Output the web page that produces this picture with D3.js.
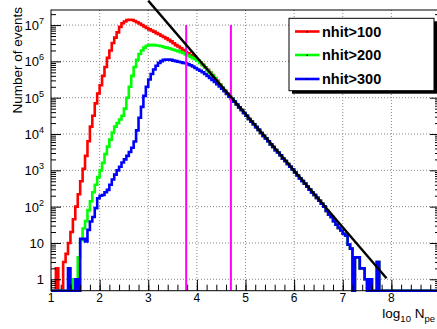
<!DOCTYPE html>
<html>
<head>
<meta charset="utf-8">
<script src="https://cdn.jsdelivr.net/npm/d3@7"></script>
<style>
  body { margin: 0; background: #fff; }
  svg { display: block; }
  text { font-family: "Liberation Sans", Arial, Helvetica, sans-serif; fill: #000; }
</style>
</head>
<body>
<svg id="chart" width="437" height="329"></svg>
<script>
// histogram binning in log10(Npe)
const binStart = 1.0;
const binWidth = 0.05;

// counts per bin from 1.00 up to 4.65
const nhit100 = [0, 0, 2, 0, 0, 3, 5, 10, 20, 45,
  100, 220, 500, 1100, 2500, 6300, 16000, 32000, 70000, 130000,
  220000, 400000, 700000, 1250000, 2000000, 3200000, 4500000, 6300000, 8900000, 11200000,
  12600000, 13800000, 14000000, 13800000, 13000000, 12000000, 11000000, 10000000, 9100000, 8300000,
  7600000, 7100000, 6600000, 6000000, 5600000, 5100000, 4700000, 4300000, 3900000, 3550000,
  3160000, 2800000, 2570000, 2290000, 2040000, 1820000, 1660000, 1480000, 1350000, 1200000,
  1070000, 930000, 810000, 690000, 590000, 500000, 420000, 350000, 290000, 234000,
  190000, 158000, 129000, 107000];

const nhit200 = [0, 0, 0, 0, 0, 0, 0, 0, 0, 1,
  1, 4, 12, 25, 40, 80, 140, 250, 400, 650,
  1000, 1600, 2800, 4500, 7000, 11000, 16000, 20000, 25000, 32000,
  50000, 100000, 200000, 400000, 700000, 1100000, 1600000, 2000000, 2400000, 2700000,
  2800000, 2850000, 2800000, 2750000, 2700000, 2600000, 2500000, 2400000, 2300000, 2200000,
  2100000, 2000000, 1900000, 1800000, 1700000, 1550000, 1450000, 1320000, 1230000, 1150000,
  1050000, 910000, 790000, 680000, 575000, 490000, 410000, 340000, 280000, 230000,
  190000, 155000, 129000, 107000];

const nhit300 = [0, 0, 0, 0, 0, 0, 0, 2, 0, 0,
  1, 0, 13, 13, 11, 23, 39, 52, 91, 170,
  200, 210, 250, 290, 400, 560, 760, 1000, 1250, 1650,
  2000, 2500, 3200, 4200, 6200, 12600, 28000, 56000, 112000, 200000,
  316000, 450000, 600000, 760000, 910000, 1020000, 1100000, 1120000, 1120000, 1100000,
  1050000, 1020000, 980000, 950000, 910000, 890000, 830000, 780000, 720000, 660000,
  600000, 550000, 500000, 450000, 400000, 350000, 310000, 270000, 235000, 205000,
  178000, 150000, 126000, 107000];

// from 4.70 up to 9.00 the three selections coincide
const commonTail = [93000, 78000, 65000, 54000, 46000, 38000, 32000, 26000, 22000, 18500,
  15500, 13000, 10700, 8900, 7600, 6300, 5200, 4400, 3600, 3100,
  2600, 2100, 1800, 1500, 1250, 1050, 870, 720, 600, 510,
  430, 355, 295, 245, 210, 175, 145, 120, 100, 76,
  60, 52, 40, 32, 26, 22, 18, 16, 9, 7,
  0, 4, 4, 2, 2, 1, 0, 1, 0, 0,
  3, 0, 0, 0, 0, 0, 0, 0, 0, 0,
  0, 0, 0, 0, 0, 0, 0, 0, 0, 0,
  0, 0, 0, 0, 0, 0];

const seriesNames = ["nhit>100", "nhit>200", "nhit>300"];
const seriesColors = ["#ff0000", "#00ff00", "#0000ff"];

const xTicks = [1, 2, 3, 4, 5, 6, 7, 8, 9];
const yTicks = [1, 10, 1e2, 1e3, 1e4, 1e5, 1e6, 1e7];

// vertical cut markers and the power-law line
const cutX = [3.78, 4.70];
const cutTop = 1e7;
const fitX = [3.0, 7.9];
const fitY = [4.7e7, 1.07];

const svg = d3.select("#chart");

const x = d3.scaleLinear().domain([1, 9]).range([51, 440]);
const y = d3.scaleLog().domain([0.485, 2.6e7]).range([290.7, 10]);
const [xLeft, xRight] = x.range();
const [yBottom, yTop] = y.range();

// dotted grid
const grid = svg.append("g").attr("stroke", "#888").attr("stroke-dasharray", "1,2");
grid.selectAll(".gx").data(xTicks.slice(1, -1)).join("line")
  .attr("x1", d => x(d)).attr("x2", d => x(d))
  .attr("y1", yTop).attr("y2", yBottom);
grid.selectAll(".gy").data(yTicks).join("line")
  .attr("x1", xLeft).attr("x2", xRight)
  .attr("y1", d => y(d)).attr("y2", d => y(d));

// histograms
function histPoints(values) {
  const pts = [[x(binStart), yBottom]];
  values.forEach((v, i) => {
    const lo = binStart + i * binWidth, hi = lo + binWidth;
    const yy = v > 0 ? y(v) : yBottom;
    pts.push([x(lo), yy], [x(hi), yy]);
  });
  pts.push([x(binStart + values.length * binWidth), yBottom]);
  return pts;
}
const line = d3.line();
[nhit100, nhit200, nhit300].forEach((s, k) => {
  svg.append("path")
    .attr("d", line(histPoints(s.concat(commonTail))))
    .attr("fill", "none")
    .attr("stroke", seriesColors[k])
    .attr("stroke-width", 2.6)
    .attr("stroke-linejoin", "miter");
});

// magenta cuts
svg.append("g").selectAll("line").data(cutX).join("line")
  .attr("x1", d => x(d)).attr("x2", d => x(d))
  .attr("y1", yBottom).attr("y2", y(cutTop))
  .attr("stroke", "#ff00ff").attr("stroke-width", 2);

// fitted power law
svg.append("line")
  .attr("x1", x(fitX[0])).attr("y1", y(fitY[0]))
  .attr("x2", x(fitX[1])).attr("y2", y(fitY[1]))
  .attr("stroke", "#000").attr("stroke-width", 2.4);

// axes (ticks pointing inward)
const xMinor = d3.range(1, 9.001, 0.2);
const yMinor = [];
for (let e = -1; e <= 7; e++) for (let m = 2; m <= 9; m++) {
  const v = m * Math.pow(10, e);
  if (v > 0.485 && v < 2.6e7) yMinor.push(v);
}
function clean(g) { g.select(".domain").remove(); g.selectAll("text").remove(); }

svg.append("g").attr("transform", `translate(0,${yBottom})`)
  .call(d3.axisBottom(x).tickValues(xTicks).tickSize(-11)).call(clean);
svg.append("g").attr("transform", `translate(0,${yBottom})`)
  .call(d3.axisBottom(x).tickValues(xMinor).tickSize(-6)).call(clean);
svg.append("g").attr("transform", `translate(${xLeft},0)`)
  .call(d3.axisLeft(y).tickValues(yTicks).tickSize(-10)).call(clean);
svg.append("g").attr("transform", `translate(${xLeft},0)`)
  .call(d3.axisLeft(y).tickValues(yMinor).tickSize(-5)).call(clean);
svg.append("g").attr("transform", `translate(${xRight},0)`)
  .call(d3.axisRight(y).tickValues(yTicks).tickSize(-10)).call(clean);
svg.append("g").attr("transform", `translate(${xRight},0)`)
  .call(d3.axisRight(y).tickValues(yMinor).tickSize(-5)).call(clean);

svg.append("rect")
  .attr("x", xLeft).attr("y", yTop)
  .attr("width", xRight - xLeft).attr("height", yBottom - yTop)
  .attr("fill", "none").attr("stroke", "#000").attr("stroke-width", 1);

// tick labels
svg.append("g").selectAll("text").data(xTicks).join("text")
  .attr("x", d => x(d)).attr("y", 302)
  .attr("text-anchor", "middle").attr("font-size", 12)
  .text(d => d);

const yl = svg.append("g").selectAll("text").data(yTicks).join("text")
  .attr("x", 44).attr("y", d => y(d) + 5)
  .attr("text-anchor", "end").attr("font-size", 13);
yl.each(function (d) {
  const t = d3.select(this);
  const e = Math.round(Math.log10(d));
  if (e < 2) { t.text(d); return; }
  t.append("tspan").text("10");
  t.append("tspan").attr("dy", -6).attr("font-size", 9).text(e);
});

// axis titles
svg.append("text")
  .attr("transform", "translate(22,7) rotate(-90)")
  .attr("text-anchor", "end").attr("font-size", 13.5)
  .text("Number of events");

const xt = svg.append("text").attr("x", 435).attr("y", 318)
  .attr("text-anchor", "end").attr("font-size", 13.5);
xt.append("tspan").text("log");
xt.append("tspan").attr("dy", 4).attr("font-size", 9.5).text("10");
xt.append("tspan").attr("dy", -4).text(" N");
xt.append("tspan").attr("dy", 4).attr("font-size", 9.5).text("pe");

// legend
const lg = { x: 289, y: 18.3, w: 145, h: 72.4 };
svg.append("rect").attr("x", lg.x + 3).attr("y", lg.y + 3)
  .attr("width", lg.w).attr("height", lg.h).attr("fill", "#000");
svg.append("rect").attr("x", lg.x).attr("y", lg.y)
  .attr("width", lg.w).attr("height", lg.h)
  .attr("fill", "#fff").attr("stroke", "#000").attr("stroke-width", 1);
const rowY = [31.5, 55, 79];
seriesNames.forEach((name, k) => {
  svg.append("line")
    .attr("x1", 295).attr("x2", 319.5)
    .attr("y1", rowY[k]).attr("y2", rowY[k])
    .attr("stroke", seriesColors[k]).attr("stroke-width", 2.6);
  svg.append("rect")
    .attr("x", 306.5).attr("y", rowY[k] - 0.5)
    .attr("width", 1.5).attr("height", 1.5).attr("fill", "#000");
  svg.append("text")
    .attr("x", 322).attr("y", rowY[k] + 5)
    .attr("font-size", 14.5).attr("font-weight", "bold")
    .text(name);
});
</script>
</body>
</html>
